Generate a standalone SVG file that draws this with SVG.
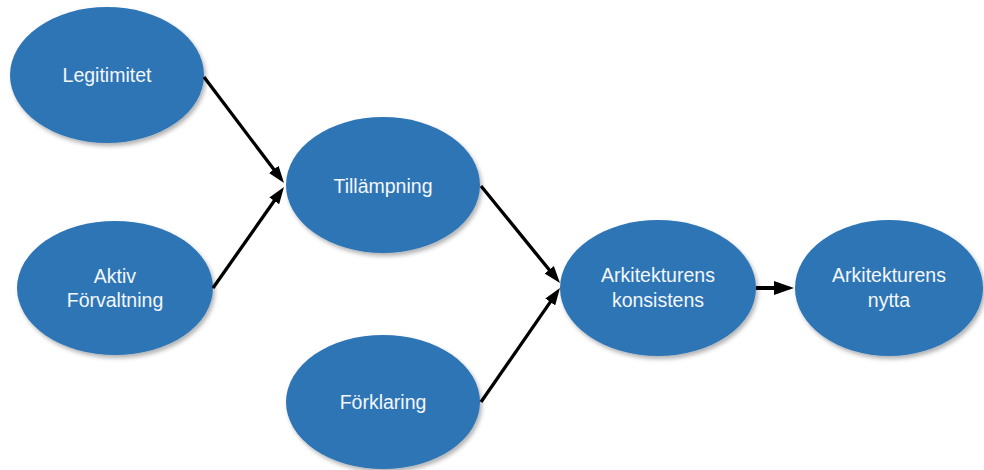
<svg xmlns="http://www.w3.org/2000/svg" width="984" height="470" viewBox="0 0 984 470">
  <defs>
    <filter id="shadow" x="-10%" y="-10%" width="125%" height="130%">
      <feDropShadow dx="2" dy="3" stdDeviation="2" flood-color="#000" flood-opacity="0.3"/>
    </filter>
    <marker id="arrow" viewBox="0 0 17 12" refX="9" refY="6" markerWidth="17" markerHeight="12" markerUnits="userSpaceOnUse" orient="auto">
      <path d="M0,0 L17,6 L0,12 z" fill="#000"/>
    </marker>
    <marker id="arrow-wide" viewBox="0 0 20 14" refX="10" refY="7" markerWidth="20" markerHeight="14" markerUnits="userSpaceOnUse" orient="auto">
      <path d="M0,0 L20,7 L0,14 z" fill="#000"/>
    </marker>
  </defs>
  <style>
    .node ellipse { fill: #2E75B6; filter: url(#shadow); }
    .node text { font-family: "Liberation Sans", Arial, sans-serif; font-size: 19.5px; fill: #F4F7FB; text-anchor: middle; }
    .edges line { stroke: #000; stroke-width: 3.3; marker-end: url(#arrow); }
    .edges line.wide { stroke-width: 4; marker-end: url(#arrow-wide); }
  </style>

  <rect width="984" height="470" fill="#fff"/>

  <g id="node-legitimitet" class="node">
    <ellipse cx="107" cy="75" rx="97" ry="68"/>
    <text x="107" y="82">Legitimitet</text>
  </g>
  <g id="node-aktiv-forvaltning" class="node">
    <ellipse cx="115" cy="288" rx="98" ry="67"/>
    <text x="115" y="283">Aktiv</text>
    <text x="115" y="307">Förvaltning</text>
  </g>
  <g id="node-tillampning" class="node">
    <ellipse cx="383" cy="185" rx="97" ry="68"/>
    <text x="383" y="193">Tillämpning</text>
  </g>
  <g id="node-forklaring" class="node">
    <ellipse cx="383" cy="402" rx="97" ry="67"/>
    <text x="383" y="409">Förklaring</text>
  </g>
  <g id="node-konsistens" class="node">
    <ellipse cx="658" cy="288" rx="98" ry="68"/>
    <text x="658" y="282">Arkitekturens</text>
    <text x="658" y="307">konsistens</text>
  </g>
  <g id="node-nytta" class="node">
    <ellipse cx="889" cy="288" rx="94" ry="68"/>
    <text x="889" y="282">Arkitekturens</text>
    <text x="889" y="307">nytta</text>
  </g>

  <g id="edges" class="edges">
    <line x1="204" y1="77" x2="279.2" y2="176.6"/>
    <line x1="213" y1="288" x2="279.4" y2="193.5"/>
    <line x1="481" y1="186" x2="554.9" y2="276.8"/>
    <line x1="481" y1="402" x2="555.4" y2="294.6"/>
    <line class="wide" x1="756" y1="288" x2="784" y2="288"/>
  </g>
</svg>
